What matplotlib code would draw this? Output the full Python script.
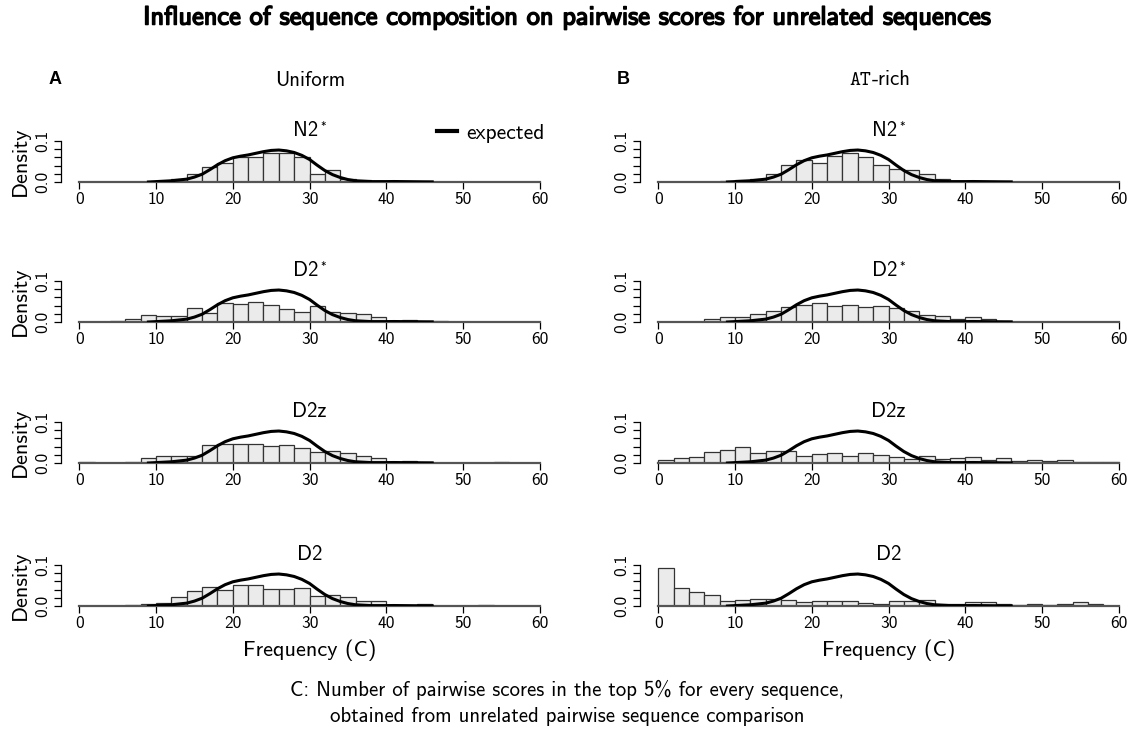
import matplotlib as mpl
import matplotlib.pyplot as plt
import matplotlib.patheffects as pe
from matplotlib.lines import Line2D
from matplotlib.offsetbox import TextArea, HPacker, AnchoredOffsetbox
import numpy as np

mpl.rcParams['font.family'] = 'cmss10'
mpl.rcParams['mathtext.fontset'] = 'custom'
mpl.rcParams['mathtext.rm'] = 'cmss10'
mpl.rcParams['mathtext.it'] = 'cmss10'
mpl.rcParams['axes.unicode_minus'] = False

# histogram bins: 0..60, width 2
bin_edges = list(range(0, 62, 2))

# expected density of C
exp_x = list(range(9, 47))
exp_y = [0.0, 0.001, 0.002, 0.003, 0.005, 0.007, 0.012, 0.019, 0.030, 0.042,
         0.052, 0.059, 0.063, 0.066, 0.070, 0.074, 0.077, 0.078, 0.076, 0.072,
         0.065, 0.055, 0.041, 0.028, 0.018, 0.011, 0.006, 0.003, 0.002, 0.001,
         0.001, 0.001, 0.0012, 0.001, 0.0008, 0.0006, 0.0004, 0.0003]

# observed densities, uniform composition
uni_n2s = [0, 0, 0, 0, 0.0005, 0.0025, 0.008, 0.019, 0.036, 0.047,
           0.062, 0.062, 0.071, 0.070, 0.062, 0.020, 0.030, 0.007, 0.005, 0.001,
           0.001, 0.001, 0.0005, 0, 0, 0, 0, 0, 0, 0]
uni_d2s = [0.001, 0.0005, 0.002, 0.007, 0.017, 0.014, 0.014, 0.033, 0.023, 0.047,
           0.045, 0.049, 0.042, 0.032, 0.025, 0.038, 0.024, 0.022, 0.019, 0.013,
           0.003, 0.006, 0.002, 0.002, 0.001, 0.001, 0.0005, 0, 0, 0]
uni_d2z = [0.002, 0.001, 0.001, 0.002, 0.011, 0.018, 0.018, 0.018, 0.045, 0.047,
           0.046, 0.046, 0.041, 0.043, 0.036, 0.026, 0.029, 0.024, 0.016, 0.011,
           0.0025, 0.005, 0.002, 0.001, 0.001, 0.001, 0.001, 0.002, 0, 0]
uni_d2 = [0, 0, 0, 0.002, 0.004, 0.008, 0.021, 0.037, 0.046, 0.039,
          0.051, 0.051, 0.042, 0.042, 0.045, 0.025, 0.026, 0.022, 0.011, 0.013,
          0.003, 0.003, 0.004, 0, 0, 0.001, 0.002, 0, 0, 0]

# observed densities, AT-rich composition
at_n2s = [0, 0, 0, 0, 0.002, 0.004, 0.008, 0.019, 0.042, 0.053,
          0.047, 0.064, 0.070, 0.061, 0.041, 0.032, 0.029, 0.019, 0.008, 0.002,
          0.001, 0.001, 0.0005, 0, 0, 0, 0, 0, 0, 0]
at_d2s = [0, 0.0005, 0.0005, 0.007, 0.011, 0.012, 0.019, 0.028, 0.037, 0.042,
          0.046, 0.040, 0.042, 0.036, 0.039, 0.034, 0.026, 0.017, 0.014, 0.008,
          0.011, 0.007, 0.003, 0.001, 0.001, 0.0005, 0.0005, 0.0005, 0, 0]
at_d2z = [0.008, 0.013, 0.015, 0.028, 0.031, 0.038, 0.024, 0.029, 0.029, 0.017,
          0.023, 0.024, 0.018, 0.024, 0.019, 0.014, 0.010, 0.018, 0.009, 0.011,
          0.014, 0.008, 0.013, 0.005, 0.008, 0.005, 0.007, 0.002, 0.003, 0.0025]
at_d2 = [0.0925, 0.045, 0.033, 0.0275, 0.0125, 0.015, 0.018, 0.016, 0.015, 0.009,
         0.013, 0.013, 0.012, 0.0075, 0.006, 0.012, 0.012, 0.015, 0.004, 0.004,
         0.010, 0.010, 0.005, 0.0015, 0.005, 0.0015, 0.005, 0.010, 0.005, 0.001]

panel_titles = ['N2', 'D2', 'D2z', 'D2']
starred = [True, True, False, False]
columns = [[uni_n2s, uni_d2s, uni_d2z, uni_d2],
           [at_n2s, at_d2s, at_d2z, at_d2]]

W, H = 1134, 733
fig = plt.figure(figsize=(W / 100, H / 100), dpi=100)

col_left = [61, 640]          # pixel x of y-axis
row_base = [182, 322, 463, 606]  # pixel y of zero line
ax_w, ax_h = 497, 41

axes = []
for c, col in enumerate(columns):
    for r, dens in enumerate(col):
        ax = fig.add_axes([col_left[c] / W, (H - row_base[r]) / H, ax_w / W, ax_h / H])
        ax.patch.set_alpha(0)
        ax.bar(bin_edges[:-1], dens, width=2, align='edge', color='#EBEBEB',
               edgecolor='#333333', linewidth=0.9, zorder=2)
        ax.plot(exp_x, exp_y, color='black', lw=2.2, zorder=3)
        ax.set_xlim(-2.4, 62.4)
        ax.set_ylim(0, 0.1)
        for s in ['top', 'right']:
            ax.spines[s].set_visible(False)
        ax.spines['bottom'].set_bounds(0, 60)
        ax.spines['bottom'].set_color('#555555')
        ax.spines['bottom'].set_linewidth(1.6)
        ax.spines['left'].set_bounds(0, 0.1)
        ax.spines['left'].set_linewidth(0.9)
        ax.set_xticks(range(0, 61, 10))
        ax.set_yticks(np.arange(0, 0.1001, 0.02))
        ax.set_yticklabels(['0.0', '', '', '', '', '0.1'], rotation=90, va='center')
        ax.tick_params(direction='out', length=5, width=0.9, labelsize=12.5, pad=2)
        ax.tick_params(axis='y', pad=3)

        # panel title, with a small raised asterisk for the starred statistics
        parts = [TextArea(panel_titles[r], textprops=dict(size=15))]
        if starred[r]:
            parts.append(TextArea('*', textprops=dict(size=8)))
        ttl = HPacker(children=parts, align='top', pad=0, sep=1)
        ax.add_artist(AnchoredOffsetbox(loc='lower center', child=ttl, frameon=False,
                                        pad=0, borderpad=0, bbox_to_anchor=(0.5, 1.02),
                                        bbox_transform=ax.transAxes))
        if c == 0:
            fig.text(20 / W, 1 - (row_base[r] - ax_h / 2) / H, 'Density', rotation=90,
                     ha='center', va='center', fontsize=16)
        axes.append(ax)

    fig.text((col_left[c] + ax_w / 2) / W, 1 - 650 / H, 'Frequency (C)',
             ha='center', va='center', fontsize=16)

fig.text(0.5, 1 - 18 / H,
         'Influence of sequence composition on pairwise scores for unrelated sequences',
         ha='center', va='center', fontsize=19,
         path_effects=[pe.withStroke(linewidth=1.1, foreground='black')])

fig.text(55 / W, 1 - 80 / H, 'A', ha='center', va='center', fontsize=13,
         fontweight='bold', family='Liberation Sans')
fig.text(623 / W, 1 - 80 / H, 'B', ha='center', va='center', fontsize=13,
         fontweight='bold', family='Liberation Sans')
fig.text(310 / W, 1 - 80 / H, 'Uniform', ha='center', va='center', fontsize=15)

hdr = HPacker(children=[TextArea('AT', textprops=dict(family='cmtt10', size=15)),
                        TextArea('-rich', textprops=dict(size=15))],
              align='baseline', pad=0, sep=0)
fig.add_artist(AnchoredOffsetbox(loc='center', child=hdr, frameon=False, pad=0,
                                 borderpad=0, bbox_to_anchor=(880 / W, 1 - 80 / H),
                                 bbox_transform=fig.transFigure))

axes[0].legend(handles=[Line2D([], [], color='black', lw=3)], labels=['expected'],
               loc='center left', bbox_to_anchor=(437 / W, 1 - 133 / H),
               bbox_transform=fig.transFigure, frameon=False, fontsize=15.5,
               handlelength=0.95, handletextpad=0.4, borderpad=0, borderaxespad=0)

fig.text(0.5, 1 - 690 / H,
         'C: Number of pairwise scores in the top 5% for every sequence,',
         ha='center', va='center', fontsize=15)
fig.text(0.5, 1 - 716 / H,
         'obtained from unrelated pairwise sequence comparison',
         ha='center', va='center', fontsize=15)

fig.savefig('out.png', dpi=100)
